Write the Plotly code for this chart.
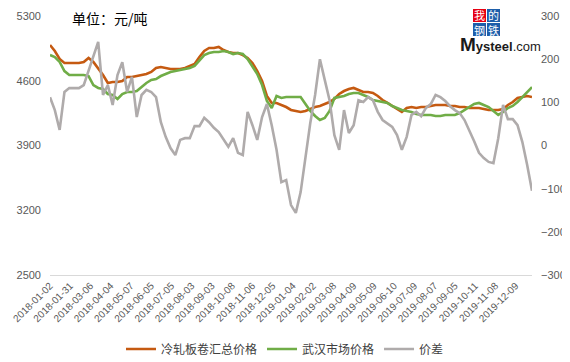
import plotly.graph_objects as go

# ---------------- data (weekly samples, every 5 trading days) ----------------
tick_labels = ["2018-01-02", "2018-01-31", "2018-03-06", "2018-04-04", "2018-05-07",
               "2018-06-05", "2018-07-05", "2018-08-03", "2018-09-03", "2018-10-08",
               "2018-11-06", "2018-12-05", "2019-01-04", "2019-02-02", "2019-03-08",
               "2019-04-09", "2019-05-09", "2019-06-10", "2019-07-09", "2019-08-07",
               "2019-09-05", "2019-10-11", "2019-11-08", "2019-12-09"]
days_per_tick = 21
total_days = 500
sample_step = 5

cold_rolled = [4987, 4922, 4835, 4792, 4792, 4792, 4792, 4803, 4846, 4803,
               4738, 4662, 4576, 4587, 4587, 4597, 4641, 4641, 4651, 4662,
               4673, 4695, 4738, 4749, 4738, 4727, 4727, 4727, 4738, 4760,
               4781, 4857, 4922, 4954, 4954, 4965, 4932, 4911, 4900, 4900,
               4878, 4846, 4792, 4705, 4597, 4435, 4360, 4360, 4338, 4316,
               4284, 4273, 4262, 4273, 4295, 4316, 4327, 4349, 4370, 4403,
               4457, 4489, 4511, 4522, 4500, 4478, 4478, 4468, 4435, 4392,
               4360, 4327, 4295, 4262, 4305, 4316, 4305, 4316, 4316, 4327,
               4338, 4338, 4338, 4327, 4327, 4316, 4316, 4305, 4305, 4305,
               4295, 4284, 4284, 4284, 4295, 4338, 4370, 4414, 4424, 4435,
               4424]

wuhan = [4878, 4857, 4803, 4705, 4662, 4662, 4662, 4662, 4651, 4554,
         4522, 4511, 4457, 4446, 4403, 4457, 4478, 4478, 4489, 4532,
         4576, 4608, 4619, 4651, 4673, 4695, 4705, 4716, 4727, 4738,
         4760, 4814, 4878, 4900, 4911, 4911, 4922, 4911, 4889, 4900,
         4889, 4835, 4760, 4673, 4554, 4381, 4305, 4435, 4414, 4424,
         4424, 4424, 4424, 4349, 4273, 4219, 4176, 4197, 4273, 4414,
         4424, 4435, 4457, 4468, 4468, 4446, 4424, 4392, 4381, 4370,
         4360, 4327, 4305, 4284, 4273, 4262, 4241, 4230, 4230, 4230,
         4219, 4219, 4230, 4230, 4230, 4251, 4284, 4316, 4349, 4360,
         4338, 4316, 4273, 4230, 4262, 4305, 4327, 4370, 4424, 4478,
         4532]

spread = [112, 82, 36, 124, 133, 133, 133, 140, 175, 210,
          240, 117, 140, 94, 163, 193, 124, 159, 66, 117,
          129, 124, 112, 54, 20, -6, -22, 13, 17, 17,
          45, 45, 64, 54, 41, 31, 13, -3, 17, -17,
          -22, 78, 47, 13, 66, 96, 47, -10, -85, -80,
          -138, -156, -108, -29, 52, 117, 200, 152, 105, 24,
          -10, 82, 29, 47, 105, 101, 112, 105, 78, 59,
          52, 43, 24, -10, 20, 71, 78, 68, 87, 96,
          117, 112, 103, 91, 82, 75, 59, 36, 10, -17,
          -29, -38, -41, 17, 94, 61, 61, 47, 8, -45,
          -105]

series_names = ["冷轧板卷汇总价格", "武汉市场价格", "价差"]
left_ticks = [2500, 3200, 3900, 4600, 5300]
right_ticks = [-300, -200, -100, 0, 100, 200, 300]

# ---------------- figure ----------------
# the page body has an 8px default margin; size the figure so the plot lands
# where the reference draws it inside the 570x362 window
OFF = 8
W, H = 570 - OFF, 362 - OFF
PLOT_L, PLOT_R, PLOT_T, PLOT_B = 50, 532, 16, 275   # screen pixels
ML, MT = PLOT_L - OFF, PLOT_T - OFF
MR, MB = W - (PLOT_R - OFF), H - (PLOT_B - OFF)
PW, PH = PLOT_R - PLOT_L, PLOT_B - PLOT_T


def px(xp, yp):
    """screen pixel -> paper coords"""
    return (xp - PLOT_L) / PW, (PLOT_B - yp) / PH


x_days = list(range(0, total_days + 1, sample_step))
tickvals = [i * days_per_tick for i in range(len(tick_labels))]

ORANGE = "#C55A11"
GREEN = "#70AD47"
GREY = "#AFABAB"
CJK = "Noto Sans CJK SC"
NUM = "Liberation Sans"

fig = go.Figure()
fig.add_trace(go.Scatter(x=x_days, y=cold_rolled, name=series_names[0], mode="lines",
                         line=dict(color=ORANGE, width=2.6), yaxis="y"))
fig.add_trace(go.Scatter(x=x_days, y=wuhan, name=series_names[1], mode="lines",
                         line=dict(color=GREEN, width=2.6), yaxis="y"))
fig.add_trace(go.Scatter(x=x_days, y=spread, name=series_names[2], mode="lines",
                         line=dict(color=GREY, width=2.6), yaxis="y2"))

tickfont = dict(family=NUM, size=11, color="#595959")

fig.update_layout(
    width=W, height=H,
    margin=dict(l=ML, r=MR, t=MT, b=MB, pad=0, autoexpand=False),
    paper_bgcolor="white", plot_bgcolor="white",
    showlegend=True,
    legend=dict(orientation="h", xref="container", x=(285 - OFF) / W, xanchor="center",
                yref="container", y=(H - (349 - OFF)) / H, yanchor="middle",
                font=dict(family=CJK, size=12, color="#404040"),
                itemwidth=30, tracegroupgap=0, bgcolor="rgba(0,0,0,0)"),
    xaxis=dict(range=[0, total_days], tickmode="array", tickvals=tickvals,
               ticktext=tick_labels, tickangle=-45, automargin=False,
               tickfont=dict(family=NUM, size=10, color="#595959"),
               showgrid=False, zeroline=False, showline=True, linecolor="#D9D9D9",
               linewidth=1, ticks=""),
    yaxis=dict(range=[2500, 5300], tickmode="array", tickvals=left_ticks, automargin=False,
               tickfont=tickfont, showgrid=False, zeroline=False, showline=False,
               ticklabelstandoff=8),
    yaxis2=dict(range=[-300, 300], tickmode="array", tickvals=right_ticks, automargin=False,
                tickfont=tickfont, overlaying="y", side="right", showgrid=False,
                zeroline=False, showline=False, ticklabelstandoff=8),
)

annotations = []
shapes = []
tx, ty = px(70, 18.5)
annotations.append(dict(x=tx, y=ty, xref="paper", yref="paper", xanchor="left",
                        yanchor="middle", showarrow=False, text="单位：元/吨",
                        font=dict(family=CJK, size=14, color="#000000")))

BOX = 13
logo = [("我", 473, 9, "#E60012"), ("的", 487, 9, "#1E5EAA"),
        ("钢", 473, 23, "#1E5EAA"), ("铁", 487, 23, "#1E5EAA")]
for ch, bx, by, col in logo:
    x0, y1 = px(bx, by)
    x1, y0 = px(bx + BOX, by + BOX)
    shapes.append(dict(type="rect", xref="paper", yref="paper", x0=x0, x1=x1, y0=y0, y1=y1,
                       fillcolor=col, line=dict(width=0), layer="above"))
    cx, cy = px(bx + BOX / 2, by + BOX / 2)
    annotations.append(dict(x=cx, y=cy, xref="paper", yref="paper", xanchor="center",
                            yanchor="middle", showarrow=False, text=ch,
                            font=dict(family=CJK, size=11, color="white")))
mx, my = px(500, 44)
annotations.append(dict(x=mx, y=my, xref="paper", yref="paper", xanchor="center",
                        yanchor="middle", showarrow=False,
                        text="<span style='font-size:19px'><b>M</b></span><b>ysteel</b>.com",
                        font=dict(family=NUM, size=13, color="#1a1a1a")))
fig.update_layout(annotations=annotations, shapes=shapes)

fig.write_html("out.html")
